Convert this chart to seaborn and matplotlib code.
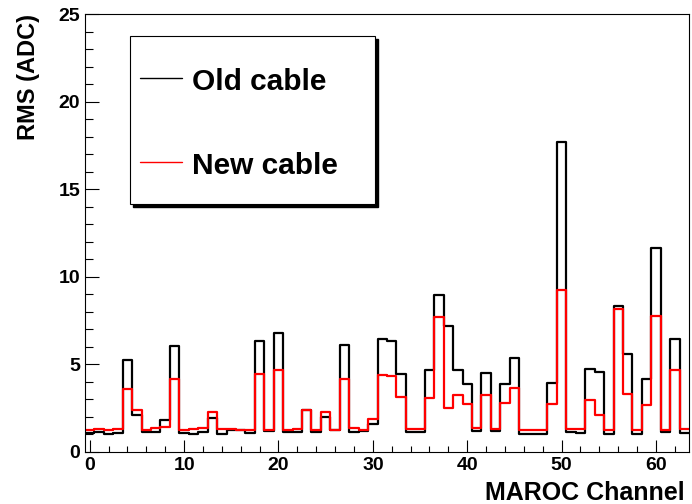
import numpy as np
import pandas as pd
import seaborn as sns
import matplotlib.pyplot as plt
from matplotlib.patches import Rectangle
from matplotlib.lines import Line2D

# RMS noise per MAROC channel (0..63)
channels = np.arange(64)
old_rms = [1.10, 1.15, 1.01, 1.10, 5.27, 2.13, 1.14, 1.14, 1.81, 6.03,
           1.10, 1.05, 1.14, 1.96, 1.05, 1.24, 1.24, 1.10, 6.34, 1.22,
           6.79, 1.14, 1.12, 2.42, 1.14, 2.00, 1.24, 6.09, 1.14, 1.22,
           1.58, 6.45, 6.32, 4.43, 1.14, 1.14, 4.70, 8.94, 7.17, 4.70,
           3.86, 1.20, 4.51, 1.20, 3.86, 5.37, 1.01, 1.04, 1.05, 3.94,
           17.69, 1.14, 1.10, 4.76, 4.57, 1.05, 8.33, 5.62, 1.05, 4.19,
           11.65, 1.14, 6.47, 1.10]
new_rms = [1.25, 1.30, 1.28, 1.30, 3.62, 2.42, 1.24, 1.39, 1.43, 4.15,
           1.24, 1.34, 1.39, 2.28, 1.30, 1.30, 1.27, 1.24, 4.47, 1.24,
           4.70, 1.27, 1.34, 2.38, 1.24, 2.28, 1.27, 4.19, 1.39, 1.24,
           1.90, 4.40, 4.32, 3.14, 1.30, 1.31, 3.10, 7.71, 2.51, 3.24,
           2.76, 1.39, 3.24, 1.31, 2.82, 3.67, 1.24, 1.28, 1.24, 2.76,
           9.23, 1.33, 1.33, 2.99, 2.13, 1.24, 8.18, 3.33, 1.24, 2.67,
           7.75, 1.27, 4.66, 1.33]
series_names = ['Old cable', 'New cable']
series_colors = ['black', 'red']

df = pd.DataFrame({'channel': channels, 'old': old_rms, 'new': new_rms})

sns.set_style('ticks')
plt.rcParams['font.family'] = ['Liberation Sans', 'DejaVu Sans']
plt.rcParams['font.weight'] = 'bold'
plt.rcParams['text.color'] = 'black'
plt.rcParams['axes.labelcolor'] = 'black'
plt.rcParams['xtick.color'] = 'black'
plt.rcParams['ytick.color'] = 'black'

fig = plt.figure(figsize=(6.92, 5.04), dpi=100)
ax = fig.add_axes([0.1228, 0.1032, 0.8729, 0.869])

for colname, col in zip(['old', 'new'], series_colors):
    sns.histplot(data=df, x='channel', weights=colname, discrete=True, element='step',
                 fill=False, color=col, linewidth=1.6, ax=ax)

ax.set_xlim(-0.5, 63.5)
ax.set_ylim(0, 25)
ax.set_xticks(np.arange(0, 61, 10))
ax.set_xticks(np.arange(0, 64, 2), minor=True)
ax.set_yticks(np.arange(0, 26, 5))
ax.set_yticks(np.arange(0, 26, 1), minor=True)
ax.tick_params(axis='both', which='both', direction='in', labelsize=14,
               top=False, right=False, width=0.8, color='black', labelcolor='black')
ax.tick_params(axis='x', which='major', length=8.6)
ax.tick_params(axis='x', which='minor', length=4.3)
ax.tick_params(axis='y', which='major', length=10)
ax.tick_params(axis='y', which='minor', length=5.5)
for lab in ax.get_xticklabels() + ax.get_yticklabels():
    lab.set_fontweight('bold')
for sp in ax.spines.values():
    sp.set_visible(True)
    sp.set_linewidth(0.8)
    sp.set_color('black')

ax.set_xlabel('MAROC Channel', fontsize=18, fontweight='bold', loc='right')
ax.set_ylabel('RMS (ADC)', fontsize=17, fontweight='bold', loc='top')
ax.xaxis.set_label_coords(0.993, -0.066)
ax.yaxis.set_label_coords(-0.0745, 1.0)

# ROOT style legend box with a solid shadow
x0, x1, y0, y1 = 0.0745, 0.480, 0.566, 0.950
dx, dy = 0.005, 0.0068
ax.add_patch(Rectangle((x0 + dx, y0 - dy), x1 - x0, y1 - y0, transform=ax.transAxes,
                       facecolor='black', edgecolor='black', zorder=5))
ax.add_patch(Rectangle((x0, y0), x1 - x0, y1 - y0, transform=ax.transAxes,
                       facecolor='white', edgecolor='black', linewidth=0.8, zorder=6))
for name, col, ly, ty in zip(series_names, series_colors, [0.855, 0.663], [0.826, 0.635]):
    ax.add_line(Line2D([0.091, 0.161], [ly, ly], transform=ax.transAxes,
                       color=col, linewidth=1.0, zorder=7))
    ax.text(0.177, ty, name, transform=ax.transAxes, fontsize=21.5, fontweight='bold',
            va='baseline', ha='left', zorder=7)

fig.savefig('out.png', dpi=100)
